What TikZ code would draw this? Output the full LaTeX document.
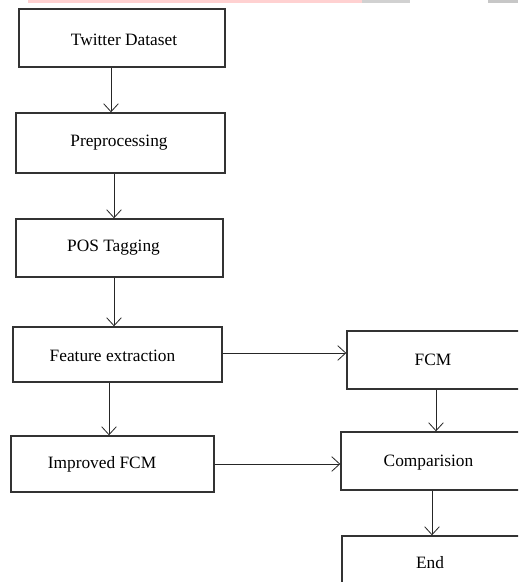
\documentclass[tikz,border=0pt]{standalone}
\usepackage{fontspec}
\setmainfont{Liberation Serif}
\usetikzlibrary{arrows.meta}
\begin{document}
\begin{tikzpicture}[x=0.75pt,y=-0.75pt,
  box/.style={draw=black!80,line width=1.05pt,inner sep=0pt,
    font=\fontsize{13}{15}\selectfont},
  arr/.style={draw=black!85,line width=0.75pt,-{Straight Barb[length=6pt,width=11pt,line width=0.6pt]}}]
\useasboundingbox (0,0) rectangle (518,582);
\fill[white] (0,0) rectangle (518,582);
\clip (0,0) rectangle (518,582);
% faint watermark band at top
\fill[red!18] (28,0) rectangle (362,3.2);
\fill[black!18] (362,0) rectangle (410,2.5);
\fill[black!22] (488,0) rectangle (518,3);
% boxes
\node[box,minimum width=206*0.75pt,minimum height=58*0.75pt,
  label={[font=\fontsize{13}{15}\selectfont,xshift=2*0.75pt,yshift=-1.5*0.75pt]center:Twitter Dataset}] (tw) at (122,38) {};
\node[box,minimum width=209*0.75pt,minimum height=60*0.75pt,
  label={[font=\fontsize{13}{15}\selectfont,xshift=-1.5*0.75pt]center:Preprocessing}] (pre) at (120.5,143) {};
\node[box,minimum width=207*0.75pt,minimum height=58*0.75pt,
  label={[font=\fontsize{13}{15}\selectfont,xshift=-6*0.75pt]center:POS Tagging}] (pos) at (119.5,248) {};
\node[box,minimum width=209*0.75pt,minimum height=55*0.75pt,
  label={[font=\fontsize{13}{15}\selectfont,xshift=-5*0.75pt,yshift=-1*0.75pt]center:Feature extraction}] (fe) at (117.5,354.5) {};
\node[box,minimum width=203*0.75pt,minimum height=56*0.75pt,
  label={[font=\fontsize{13}{15}\selectfont,xshift=-10.5*0.75pt]center:Improved FCM}] (imp) at (112.5,464) {};
\node[box,minimum width=173*0.75pt,minimum height=58*0.75pt,
  label={[font=\fontsize{13}{15}\selectfont,xshift=-0.5*0.75pt]center:FCM}] (fcm) at (433.5,360) {};
\node[box,minimum width=179*0.75pt,minimum height=58*0.75pt,
  label={[font=\fontsize{13}{15}\selectfont,xshift=-2*0.75pt,yshift=-1.5*0.75pt]center:Comparision}] (cmp) at (430.5,461) {};
\node[box,minimum width=178*0.75pt,minimum height=56*0.75pt,
  label={[font=\fontsize{13}{15}\selectfont,xshift=-1*0.75pt,yshift=1*0.75pt]center:End}] (end) at (431,564) {};
% connectors
\draw[arr] ([xshift=-11*0.75pt]tw.south) -- ([xshift=-11*0.75pt]tw.south |- pre.north);
\draw[arr] ([xshift=-6.5*0.75pt]pre.south) -- ([xshift=-6.5*0.75pt]pre.south |- pos.north);
\draw[arr] ([xshift=-5.5*0.75pt]pos.south) -- ([xshift=-5.5*0.75pt]pos.south |- fe.north);
\draw[arr] ([xshift=-8.5*0.75pt]fe.south) -- ([xshift=-8.5*0.75pt]fe.south |- imp.north);
\draw[arr] ([yshift=1.5*0.75pt]fe.east) -- ([yshift=1.5*0.75pt]fe.east -| fcm.west);
\draw[arr] ([xshift=2.5*0.75pt]fcm.south) -- ([xshift=2.5*0.75pt]fcm.south |- cmp.north);
\draw[arr] (imp.east) -- (imp.east -| cmp.west);
\draw[arr] ([xshift=1.5*0.75pt]cmp.south) -- ([xshift=1.5*0.75pt]cmp.south |- end.north);
\end{tikzpicture}
\end{document}
